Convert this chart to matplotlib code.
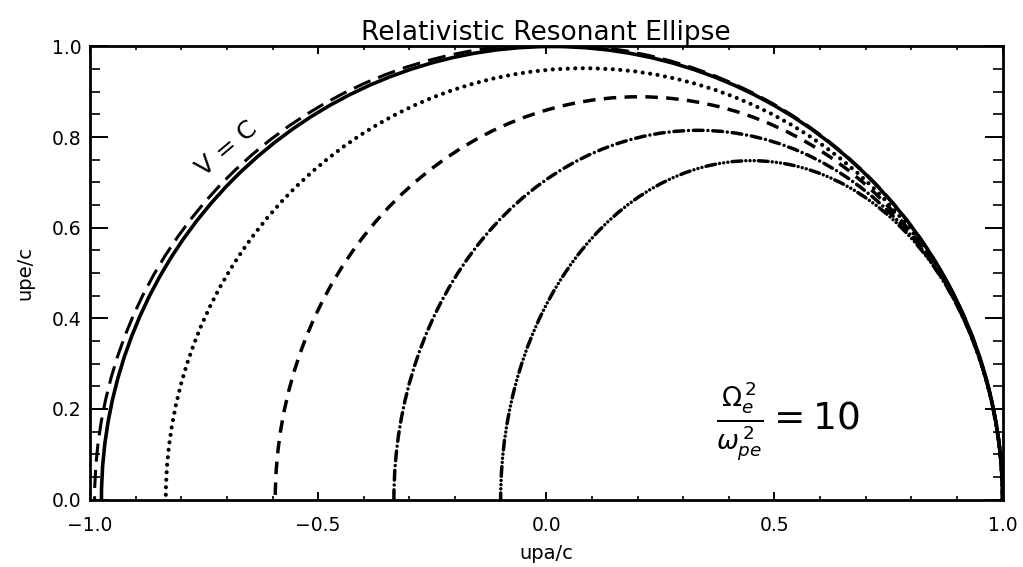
import numpy as np
import matplotlib.pyplot as plt
from matplotlib.patches import Arc

plt.rcParams['font.family'] = 'DejaVu Sans'
plt.rcParams['lines.scale_dashes'] = False

# resonant ellipses: left / right crossing of upe=0 and peak height (units of c)
names      = ['solid', 'long dash', 'dotted', 'dashed', 'dash dot', 'dash 3 dot']
left_ends  = [-0.975, -0.990, -0.834, -0.594, -0.334, -0.100]
right_ends = [1.000, 1.000, 1.000, 1.000, 1.000, 1.000]
peaks      = [1.000, 1.005, 0.952, 0.889, 0.815, 0.748]

styles = {
    'solid':      ('-', 'butt', 2.6),
    'long dash':  ((0, (13, 6)), 'butt', 2.2),
    'dotted':     ((0, (0.01, 5.4)), 'round', 3.0),
    'dashed':     ((0, (9, 6)), 'butt', 2.5),
    'dash dot':   ((0, (7, 3.5, 0.01, 3.5)), 'round', 2.5),
    'dash 3 dot': ((0, (7, 3, 0.01, 3, 0.01, 3, 0.01, 3)), 'round', 2.5),
}

fig = plt.figure(figsize=(10.23, 5.67), dpi=100)
ax = fig.add_axes([0.088, 0.119, 0.892, 0.799])

for name, x0, x1, h in zip(names, left_ends, right_ends, peaks):
    ls, cap, lw = styles[name]
    arc = Arc(((x0 + x1) / 2, 0), x1 - x0, 2 * h, theta1=0, theta2=180,
              color='black', linewidth=lw, linestyle=ls, capstyle=cap)
    ax.add_patch(arc)

ax.set_xlim(-1.0, 1.0)
ax.set_ylim(0.0, 1.0)
ax.set_xticks(np.arange(-1.0, 1.01, 0.5))
ax.set_xticks(np.arange(-1.0, 1.01, 0.1), minor=True)
ax.set_yticks(np.arange(0.0, 1.01, 0.2))
ax.set_yticks(np.arange(0.0, 1.01, 0.05), minor=True)
ax.set_xticklabels(['\u22121.0', '\u22120.5', '0.0', '0.5', '1.0'])
ax.set_yticklabels(['0.0', '0.2', '0.4', '0.6', '0.8', '1.0'])

for s in ax.spines.values():
    s.set_linewidth(2.0)
ax.tick_params(axis='x', which='major', direction='in', top=True, length=6, width=1.4,
               pad=12, labelsize=13.5)
ax.tick_params(axis='x', which='minor', direction='in', top=True, length=3, width=1.2)
ax.tick_params(axis='y', which='major', direction='in', right=True, length=13, width=1.4,
               pad=6, labelsize=13.5)
ax.tick_params(axis='y', which='minor', direction='in', right=True, length=7, width=1.2)

ax.set_xlabel('upa/c', fontsize=14, labelpad=6)
ax.set_ylabel('upe/c', fontsize=14, labelpad=13)
ax.set_title('Relativistic Resonant Ellipse', fontsize=19, pad=5)

ax.text(-0.70, 0.775, 'V = C', fontsize=18, rotation=40, ha='center', va='center')
ax.text(0.53, 0.17, r'$\frac{\Omega_e^{\,2}}{\omega_{pe}^{\,2}} = 10$', fontsize=27,
        ha='center', va='center')

fig.savefig('out.png', dpi=100)
